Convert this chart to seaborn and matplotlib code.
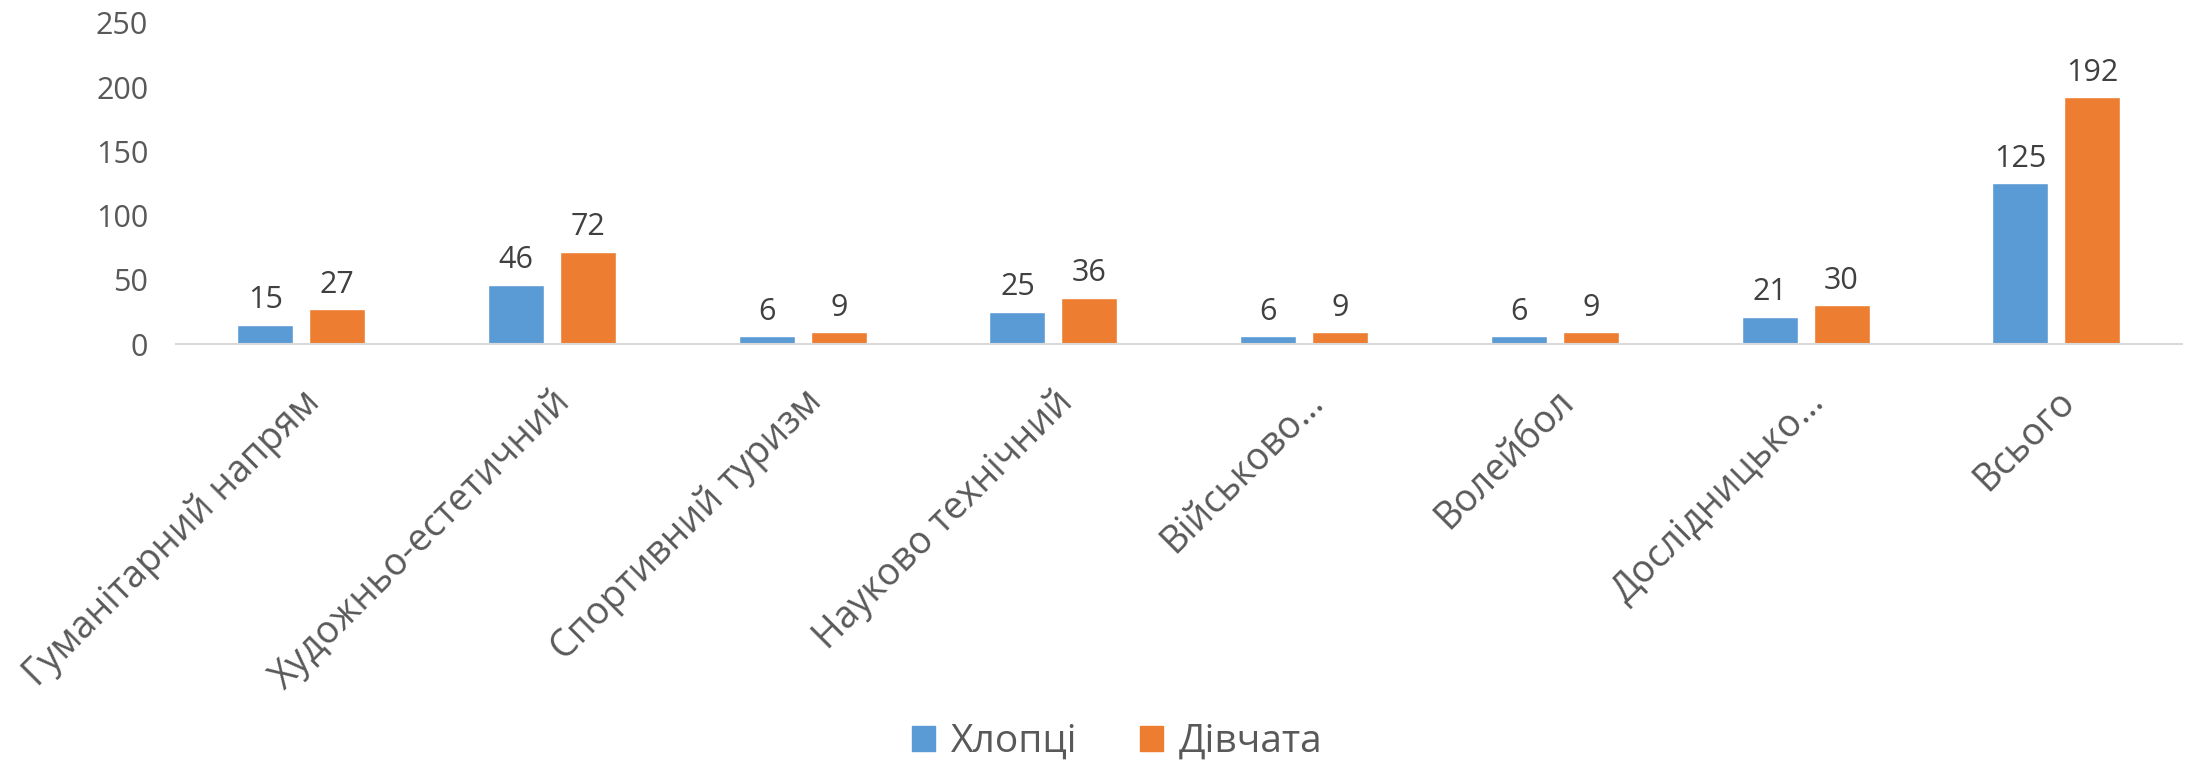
import numpy as np, pandas as pd
import matplotlib
matplotlib.use("Agg")
import matplotlib.pyplot as plt
import seaborn as sns

categories = ["Гуманітарний напрям", "Художньо-естетичний", "Спортивний туризм",
              "Науково технічний", "Військово…", "Волейбол", "Дослідницько…", "Всього"]
boys = [15, 46, 6, 25, 6, 6, 21, 125]
girls = [27, 72, 9, 36, 9, 9, 30, 192]
series = ["Хлопці", "Дівчата"]
colors = ["#5B9BD5", "#ED7D31"]

df = pd.DataFrame({
    "cat": categories * 2,
    "val": boys + girls,
    "group": [series[0]] * len(boys) + [series[1]] * len(girls),
})

sns.set_style("white")
plt.rcParams["font.family"] = ["Open Sans", "DejaVu Sans"]

fig = plt.figure(figsize=(21.86, 7.65), dpi=100)
ax = fig.add_axes([0.0805, 0.5503, 0.9175, 0.4197])

sns.barplot(data=df, x="cat", y="val", hue="group", hue_order=series,
            palette=colors, width=0.574, gap=0.222, ax=ax, legend=False,
            saturation=1, errorbar=None)

for cont in ax.containers:
    ax.bar_label(cont, padding=7, fontsize=22, color="#404040")

ax.set_ylim(0, 250)
ax.set_yticks(range(0, 251, 50))
ax.set_xlim(-0.5, len(categories) - 0.5)
ax.set_xlabel("")
ax.set_ylabel("")
ax.tick_params(axis="y", labelsize=22, labelcolor="#595959", length=0, pad=20)
ax.tick_params(axis="x", labelsize=27, labelcolor="#595959", length=0, pad=28)
plt.setp(ax.get_xticklabels(), rotation=45, ha="right", rotation_mode="anchor")

for s in ["top", "right", "left"]:
    ax.spines[s].set_visible(False)
ax.spines["bottom"].set_color("#D9D9D9")
ax.spines["bottom"].set_linewidth(1.5)

handles = [plt.Rectangle((0, 0), 1, 1, color=c) for c in colors]
fig.legend(handles, series, loc="center", bbox_to_anchor=(0.511, 0.03), ncol=2,
           frameon=False, fontsize=28, labelcolor="#595959",
           handlelength=0.6, handleheight=0.6, handletextpad=0.4, columnspacing=1.6)

fig.savefig("out.png", dpi=100)
